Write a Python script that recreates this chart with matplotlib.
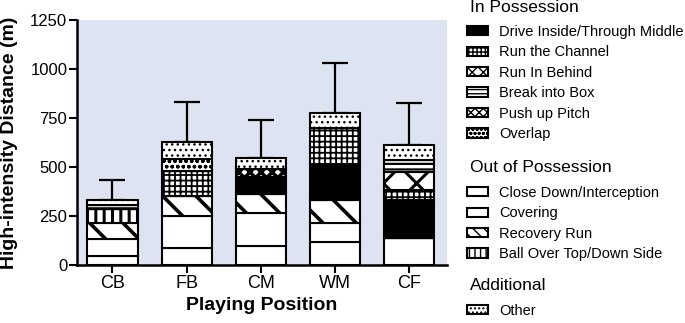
import matplotlib
matplotlib.use('Agg')
import matplotlib.pyplot as plt
import numpy as np
from matplotlib.patches import Patch

plt.rcParams['font.family'] = ['Liberation Sans', 'DejaVu Sans']
plt.rcParams['hatch.linewidth'] = 1.3

# data (metres), stacked from bottom to top
positions = ['CB', 'FB', 'CM', 'WM', 'CF']
close_down = [45, 85, 97, 119, 136]
covering = [90, 165, 170, 94, 0]
recovery_run = [78, 102, 93, 118, 0]
ball_over_top = [71, 0, 0, 0, 0]
drive_inside = [0, 0, 91, 179, 195]
run_channel = [0, 127, 0, 190, 52]
run_in_behind = [0, 0, 0, 0, 93]
break_into_box = [22, 0, 0, 0, 60]
push_up_pitch = [0, 0, 37, 0, 0]
overlap = [0, 60, 0, 0, 0]
other = [25, 90, 56, 74, 76]
upper_sd = [101, 204, 196, 258, 213]

# (label, values, facecolor, bar hatch, hatch linewidth, legend hatch)
segments = [
    ('Close Down/Interception', close_down, 'white', None, 1.0, None),
    ('Covering', covering, 'white', None, 1.0, None),
    ('Recovery Run', recovery_run, 'white', '\\', 2.6, '\\\\\\'),
    ('Ball Over Top/Down Side', ball_over_top, 'white', '||', 2.2, '|||'),
    ('Drive Inside/Through Middle', drive_inside, 'black', None, 1.0, None),
    ('Run the Channel', run_channel, 'white', '+++', 1.3, '++++'),
    ('Run In Behind', run_in_behind, 'white', 'x', 2.2, 'xxx'),
    ('Break into Box', break_into_box, 'white', '---', 1.6, '----'),
    ('Push up Pitch', push_up_pitch, 'white', 'xxx', 2.5, 'xxxx'),
    ('Overlap', overlap, 'white', 'ooo', 1.0, 'oooo'),
    ('Other', other, 'white', '...', 1.0, '....'),
]

fig = plt.figure(figsize=(6.85, 3.23), dpi=100)
ax = fig.add_axes([0.1124, 0.1796, 0.5402, 0.7585])
ax.set_facecolor('#dde3f1')

x = np.arange(len(positions))
bottom = np.zeros(len(positions))
handles = {}
for label, vals, fc, hatch, hlw, leg_hatch in segments:
    plt.rcParams['hatch.linewidth'] = hlw
    bars = ax.bar(x, vals, 0.675, bottom=bottom, color=fc, edgecolor='black',
                  linewidth=1.5, hatch=hatch, zorder=2)
    for b in bars:
        if hasattr(b, 'set_hatch_linewidth'):
            b.set_hatch_linewidth(hlw)
    plt.rcParams['hatch.linewidth'] = 1.0
    handles[label] = Patch(facecolor=fc, edgecolor='black', linewidth=1.5, hatch=leg_hatch)
    bottom = bottom + np.array(vals)

# upper error bars only
ax.errorbar(x, bottom, yerr=[np.zeros(len(x)), upper_sd], fmt='none',
            ecolor='black', elinewidth=1.6, capsize=9.5, capthick=1.6, zorder=1)

ax.set_xlim(-0.479, 4.514)
ax.set_ylim(0, 1250)
ax.set_yticks([0, 250, 500, 750, 1000, 1250])
ax.set_xticks(x)
ax.set_xticklabels(positions)
ax.tick_params(axis='y', labelsize=12, length=6, width=1.5, pad=1)
ax.tick_params(axis='x', labelsize=13, length=6, width=1.5, pad=1)
for s in ['top', 'right']:
    ax.spines[s].set_visible(False)
for s in ['left', 'bottom']:
    ax.spines[s].set_linewidth(1.8)
ax.set_xlabel('Playing Position', fontsize=14, fontweight='bold', labelpad=4)
ax.set_ylabel('High-intensity Distance (m)', fontsize=14, fontweight='bold', labelpad=9)

# legend groups with headers
groups = [
    ('In Possession', ['Drive Inside/Through Middle', 'Run the Channel', 'Run In Behind',
                       'Break into Box', 'Push up Pitch', 'Overlap'], 8, 25),
    ('Out of Possession', ['Close Down/Interception', 'Covering', 'Recovery Run',
                           'Ball Over Top/Down Side'], 167, 186),
    ('Additional', ['Other'], 286, 304),
]
W, H = 685.0, 323.0
for title, labels, ty, ly in groups:
    fig.text(470 / W, 1 - ty / H, title, fontsize=12.5, va='center', ha='left')
    leg = fig.legend([handles[l] for l in labels], labels, loc='upper left',
                     bbox_to_anchor=(467 / W, 1 - ly / H), frameon=False,
                     fontsize=10.5, borderpad=0, borderaxespad=0,
                     handlelength=1.45, handleheight=0.6, handletextpad=0.75,
                     labelspacing=0.44)

fig.savefig('out.png', dpi=100)
